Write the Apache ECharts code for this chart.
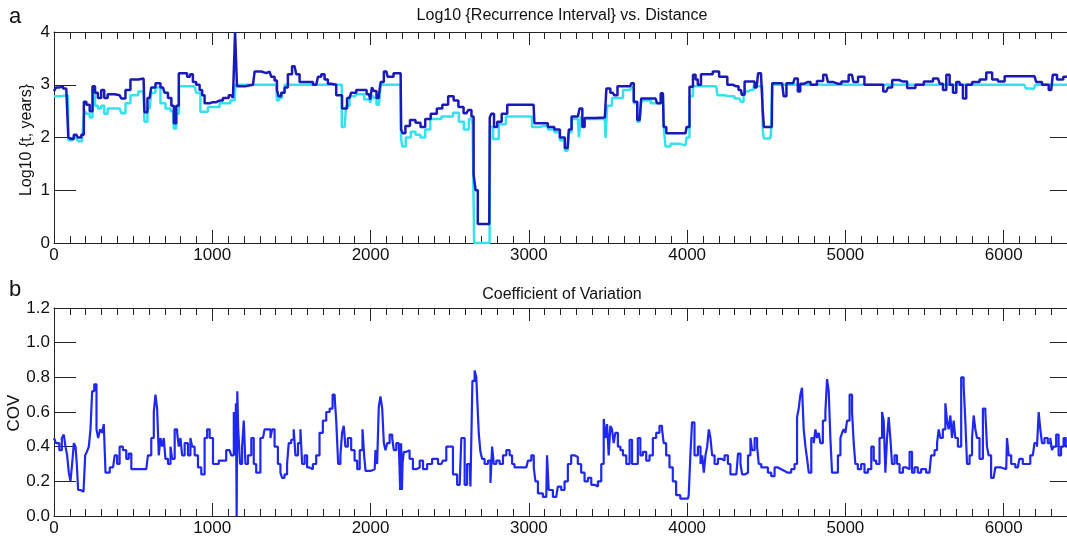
<!DOCTYPE html>
<html><head><meta charset="utf-8">
<script src="https://cdn.jsdelivr.net/npm/echarts@6/dist/echarts.min.js"></script>
<style>html,body{margin:0;padding:0;background:#fff}#c{width:1067px;height:540px}</style>
</head><body><div id="c"></div>
<script>
// ---------- data ----------
const titleTop = 'Log10 {Recurrence Interval} vs. Distance';
const titleBottom = 'Coefficient of Variation';
const yNameTop = 'Log10 {t, years}';
const yNameBottom = 'COV';
const panelLetters = ['a', 'b'];

// Log10 recurrence interval, upper (dark blue) curve: [distance, log10 years]
const riDark = [[0,2.88],[25,2.95],[46,2.97],[67,2.93],[88,2.95],[93,2.00],[109,1.97],[141,2.05],[162,2.00],[183,2.05],[194,2.68],[215,2.62],[236,2.50],[251,2.97],[267,2.85],[288,2.75],[309,2.90],[326,2.75],[352,2.82],[415,2.80],[436,2.74],[467,2.90],[499,3.10],[566,3.12],[577,2.48],[604,2.75],[625,2.95],[657,3.03],[688,2.95],[709,2.85],[731,2.75],[752,2.60],[762,2.27],[783,2.60],[794,3.22],[825,3.22],[857,3.15],[867,3.20],[888,3.05],[909,3.00],[931,2.90],[941,2.80],[962,2.65],[1004,2.67],[1046,2.70],[1088,2.75],[1120,2.80],[1141,2.75],[1147,4.00],[1154,4.00],[1158,2.97],[1257,3.00],[1278,3.25],[1341,3.22],[1362,3.25],[1383,3.15],[1404,3.08],[1413,2.90],[1425,2.78],[1446,2.85],[1467,2.95],[1488,3.20],[1520,3.35],[1541,3.20],[1562,3.05],[1615,3.05],[1657,3.00],[1678,3.15],[1699,3.20],[1720,3.10],[1741,3.02],[1762,3.00],[1804,2.80],[1836,2.55],[1867,2.75],[1888,2.85],[1931,2.90],[1960,2.90],[1990,2.82],[2005,2.72],[2012,2.95],[2030,2.88],[2045,2.75],[2060,2.80],[2068,3.05],[2100,3.25],[2115,3.15],[2140,3.15],[2150,3.22],[2190,3.22],[2196,2.15],[2210,2.08],[2230,2.22],[2268,2.33],[2300,2.28],[2331,2.20],[2360,2.35],[2400,2.45],[2437,2.55],[2470,2.62],[2510,2.78],[2540,2.70],[2570,2.58],[2605,2.46],[2630,2.52],[2645,2.40],[2657,1.30],[2670,1.00],[2685,0.36],[2750,0.36],[2756,2.38],[2770,2.45],[2790,2.20],[2810,2.30],[2847,2.45],[2880,2.62],[3030,2.62],[3040,2.27],[3100,2.27],[3140,2.20],[3182,2.15],[3210,2.00],[3245,1.80],[3260,2.15],[3280,2.40],[3310,2.40],[3331,2.55],[3345,2.20],[3360,2.37],[3480,2.38],[3500,2.93],[3530,2.85],[3550,2.80],[3570,2.97],[3640,2.97],[3656,3.03],[3670,2.68],[3700,2.33],[3720,2.74],[3800,2.74],[3820,2.65],[3847,2.84],[3857,2.20],[3880,2.08],[3990,2.08],[4003,2.20],[4027,2.96],[4047,3.19],[4060,3.10],[4075,3.00],[4100,3.20],[4140,3.20],[4184,3.25],[4220,3.15],[4240,3.15],[4268,3.00],[4310,2.97],[4340,2.90],[4350,2.81],[4376,3.06],[4413,3.06],[4439,2.95],[4458,3.22],[4475,3.22],[4480,2.52],[4490,2.20],[4535,2.20],[4540,3.03],[4600,3.03],[4620,2.78],[4635,3.03],[4670,3.03],[4689,3.12],[4710,2.87],[4720,3.02],[4760,3.05],[4800,3.00],[4840,3.07],[4879,3.19],[4900,3.05],[4950,3.02],[5000,3.06],[5041,3.19],[5060,3.05],[5100,3.15],[5140,3.00],[5220,3.00],[5258,2.87],[5280,2.95],[5311,3.09],[5364,3.06],[5416,2.94],[5469,3.00],[5522,3.06],[5585,3.12],[5606,3.02],[5627,2.90],[5648,3.19],[5669,3.00],[5690,2.85],[5711,3.05],[5732,3.00],[5753,2.74],[5774,3.00],[5827,3.05],[5869,3.10],[5911,3.23],[5943,3.10],[5985,3.06],[6027,3.16],[6195,3.16],[6216,3.05],[6269,3.00],[6300,2.90],[6321,3.19],[6353,3.10],[6400,3.15]];

// Log10 recurrence interval, lower (cyan) curve
const riCyan = [[0,2.78],[88,2.80],[93,1.95],[140,2.00],[165,1.93],[190,1.97],[194,2.50],[215,2.45],[236,2.38],[251,2.95],[267,2.60],[288,2.55],[309,2.60],[326,2.45],[352,2.55],[415,2.55],[436,2.46],[467,2.65],[499,2.80],[566,2.87],[577,2.30],[604,2.55],[625,2.85],[657,2.95],[688,2.65],[720,2.55],[752,2.50],[762,2.17],[783,2.45],[794,2.97],[888,2.97],[909,2.85],[941,2.49],[1004,2.58],[1088,2.65],[1141,2.70],[1150,3.00],[1404,3.00],[1413,2.70],[1430,2.75],[1450,2.85],[1465,3.00],[1800,3.00],[1836,2.20],[1855,2.60],[1880,2.78],[1930,2.82],[1990,2.72],[2005,2.66],[2015,2.80],[2030,2.75],[2045,2.62],[2060,2.60],[2068,3.00],[2190,3.00],[2196,1.97],[2205,1.83],[2240,2.00],[2268,2.11],[2300,2.05],[2331,2.00],[2360,2.15],[2395,2.35],[2500,2.40],[2542,2.47],[2574,2.30],[2605,2.15],[2637,2.35],[2652,2.25],[2657,0.00],[2752,0.00],[2758,2.20],[2790,1.97],[2830,2.25],[2880,2.40],[3000,2.40],[3040,2.20],[3100,2.22],[3140,2.15],[3182,2.10],[3210,1.95],[3245,1.75],[3260,2.10],[3280,2.35],[3310,2.35],[3322,2.00],[3335,2.40],[3345,2.20],[3360,2.35],[3480,2.35],[3490,1.99],[3500,2.60],[3550,2.75],[3640,2.90],[3656,2.95],[3670,2.65],[3700,2.30],[3720,2.70],[3820,2.65],[3847,2.80],[3857,2.20],[3870,1.83],[3920,1.88],[3990,1.85],[4003,2.00],[4027,2.78],[4047,2.97],[4184,2.97],[4200,2.80],[4268,2.78],[4330,2.74],[4350,2.68],[4363,2.87],[4400,2.90],[4440,2.97],[4475,2.97],[4480,2.14],[4490,1.98],[4525,1.98],[4535,2.10],[4540,3.00],[6130,3.00],[6150,2.93],[6190,2.92],[6210,3.00],[6400,3.00]];

// Coefficient of variation: [distance, COV]
const covPts = [[0,0.45],[25,0.42],[42,0.38],[57,0.45],[67,0.47],[78,0.40],[88,0.35],[99,0.25],[109,0.20],[120,0.30],[131,0.42],[141,0.40],[147,0.30],[158,0.15],[179,0.14],[194,0.15],[200,0.35],[215,0.37],[225,0.40],[236,0.50],[246,0.72],[263,0.76],[274,0.50],[284,0.45],[299,0.50],[309,0.48],[320,0.53],[331,0.25],[373,0.28],[394,0.35],[404,0.30],[425,0.40],[446,0.38],[467,0.33],[478,0.36],[499,0.27],[583,0.27],[604,0.35],[625,0.45],[636,0.60],[646,0.70],[657,0.62],[667,0.35],[678,0.45],[688,0.40],[699,0.45],[709,0.33],[731,0.30],[741,0.40],[752,0.33],[773,0.50],[783,0.48],[794,0.40],[804,0.45],[815,0.35],[836,0.42],[857,0.35],[867,0.45],[878,0.40],[899,0.35],[920,0.28],[941,0.24],[962,0.45],[973,0.50],[994,0.45],[1015,0.30],[1067,0.32],[1109,0.38],[1131,0.35],[1141,0.60],[1147,0.35],[1152,0.65],[1156,0.00],[1160,0.72],[1168,0.50],[1183,0.30],[1194,0.40],[1204,0.55],[1215,0.30],[1236,0.35],[1257,0.45],[1267,0.30],[1288,0.25],[1320,0.45],[1341,0.50],[1362,0.50],[1373,0.45],[1383,0.50],[1404,0.40],[1425,0.30],[1436,0.25],[1446,0.22],[1467,0.24],[1478,0.30],[1488,0.42],[1509,0.44],[1520,0.50],[1531,0.35],[1552,0.42],[1562,0.50],[1573,0.30],[1594,0.35],[1604,0.28],[1625,0.27],[1646,0.30],[1667,0.35],[1688,0.48],[1709,0.55],[1731,0.60],[1752,0.62],[1768,0.70],[1779,0.68],[1787,0.55],[1804,0.30],[1815,0.35],[1825,0.48],[1836,0.52],[1846,0.40],[1867,0.45],[1888,0.38],[1910,0.32],[1921,0.27],[1942,0.38],[1956,0.50],[1963,0.35],[1973,0.26],[2026,0.27],[2036,0.38],[2047,0.30],[2057,0.63],[2068,0.69],[2079,0.62],[2089,0.42],[2100,0.38],[2110,0.42],[2131,0.47],[2142,0.45],[2152,0.38],[2173,0.42],[2184,0.43],[2190,0.15],[2196,0.42],[2200,0.15],[2205,0.31],[2215,0.37],[2236,0.38],[2257,0.33],[2278,0.27],[2300,0.28],[2321,0.32],[2342,0.27],[2373,0.30],[2405,0.33],[2447,0.30],[2468,0.32],[2489,0.40],[2510,0.40],[2531,0.24],[2563,0.18],[2584,0.45],[2605,0.18],[2615,0.30],[2626,0.30],[2636,0.17],[2651,0.78],[2664,0.84],[2672,0.80],[2678,0.65],[2689,0.48],[2699,0.37],[2710,0.33],[2731,0.30],[2752,0.32],[2763,0.19],[2773,0.40],[2784,0.30],[2805,0.32],[2826,0.30],[2847,0.35],[2868,0.38],[2889,0.35],[2899,0.30],[2920,0.28],[2984,0.28],[3005,0.32],[3026,0.35],[3036,0.28],[3047,0.20],[3068,0.13],[3110,0.11],[3120,0.35],[3131,0.15],[3173,0.11],[3194,0.17],[3215,0.15],[3236,0.20],[3257,0.30],[3278,0.35],[3299,0.34],[3320,0.30],[3341,0.25],[3363,0.20],[3384,0.22],[3405,0.18],[3426,0.17],[3447,0.20],[3468,0.30],[3478,0.56],[3489,0.45],[3499,0.53],[3510,0.35],[3520,0.52],[3531,0.50],[3541,0.42],[3552,0.48],[3573,0.40],[3584,0.38],[3605,0.35],[3626,0.30],[3647,0.44],[3657,0.30],[3678,0.30],[3699,0.45],[3710,0.35],[3731,0.37],[3752,0.32],[3773,0.35],[3794,0.45],[3815,0.48],[3836,0.52],[3847,0.50],[3857,0.42],[3878,0.35],[3899,0.28],[3920,0.20],[3941,0.12],[3973,0.10],[4005,0.10],[4015,0.12],[4026,0.35],[4036,0.54],[4057,0.35],[4079,0.40],[4090,0.30],[4100,0.35],[4111,0.25],[4121,0.35],[4132,0.40],[4142,0.50],[4153,0.45],[4163,0.35],[4184,0.30],[4205,0.33],[4226,0.32],[4247,0.35],[4268,0.30],[4279,0.24],[4311,0.24],[4332,0.36],[4342,0.30],[4353,0.24],[4374,0.25],[4395,0.35],[4405,0.45],[4416,0.38],[4437,0.45],[4447,0.40],[4458,0.30],[4479,0.28],[4500,0.28],[4521,0.25],[4542,0.23],[4563,0.28],[4584,0.27],[4605,0.26],[4626,0.25],[4647,0.25],[4668,0.27],[4689,0.30],[4700,0.57],[4710,0.62],[4721,0.70],[4731,0.74],[4742,0.50],[4753,0.40],[4763,0.33],[4774,0.25],[4795,0.45],[4805,0.42],[4816,0.50],[4826,0.45],[4837,0.48],[4847,0.42],[4868,0.55],[4879,0.60],[4889,0.79],[4900,0.72],[4910,0.45],[4921,0.25],[4942,0.25],[4963,0.35],[4974,0.45],[4984,0.48],[4995,0.50],[5005,0.48],[5016,0.55],[5037,0.70],[5047,0.60],[5058,0.42],[5068,0.30],[5089,0.27],[5110,0.30],[5131,0.25],[5153,0.27],[5174,0.40],[5184,0.32],[5205,0.30],[5226,0.45],[5237,0.60],[5247,0.55],[5258,0.25],[5268,0.45],[5279,0.57],[5289,0.45],[5300,0.30],[5321,0.35],[5331,0.30],[5353,0.25],[5374,0.28],[5395,0.27],[5416,0.37],[5426,0.25],[5447,0.28],[5468,0.25],[5489,0.27],[5531,0.25],[5552,0.35],[5574,0.38],[5584,0.42],[5595,0.50],[5605,0.45],[5626,0.50],[5637,0.65],[5647,0.55],[5658,0.50],[5668,0.58],[5679,0.45],[5689,0.55],[5700,0.45],[5721,0.40],[5742,0.80],[5752,0.75],[5763,0.55],[5774,0.30],[5795,0.35],[5805,0.45],[5816,0.58],[5826,0.50],[5837,0.45],[5858,0.33],[5879,0.62],[5889,0.60],[5900,0.40],[5910,0.35],[5931,0.22],[5942,0.23],[5952,0.28],[6016,0.27],[6026,0.45],[6037,0.35],[6058,0.30],[6089,0.28],[6110,0.33],[6131,0.30],[6152,0.30],[6184,0.35],[6205,0.42],[6216,0.40],[6226,0.60],[6237,0.50],[6247,0.42],[6268,0.45],[6289,0.42],[6300,0.45],[6310,0.38],[6321,0.40],[6342,0.47],[6352,0.35],[6373,0.40],[6384,0.45],[6400,0.40]];

// axis ranges
const distRange = [0, 6400];
const distMajor = 1000, distMinor = 100;
const logRange = [0, 4], logStep = 1;
const covRange = [0, 1.2], covStep = 0.2;

// ---------- chart ----------
const FONT = '"Liberation Sans", Arial, Helvetica, sans-serif';
const AX = '#222';
const chart = echarts.init(document.getElementById('c'), null, {renderer: 'canvas'});

function xAxesFor(grid) {
  const base = {
    type: 'value', gridIndex: grid, min: distRange[0], max: distRange[1],
    splitLine: {show: false}
  };
  return [
    Object.assign({}, base, {position: 'bottom', interval: distMajor,
      axisLine: {show: true, onZero: false, lineStyle: {color: AX, width: 1}},
      axisTick: {show: true, inside: true, length: 13, lineStyle: {color: AX}},
      axisLabel: {show: true, showMaxLabel: false, margin: 4, color: '#111', fontSize: 17, fontFamily: FONT,
        formatter: v => String(Math.round(v))}}),
    Object.assign({}, base, {position: 'bottom', interval: distMinor,
      axisLine: {show: false, onZero: false},
      axisTick: {show: true, inside: true, length: 7, lineStyle: {color: AX}},
      axisLabel: {show: false}}),
    Object.assign({}, base, {position: 'top', interval: distMajor,
      axisLine: {show: true, onZero: false, lineStyle: {color: AX, width: 1}},
      axisTick: {show: true, inside: true, length: 13, lineStyle: {color: AX}},
      axisLabel: {show: false}}),
    Object.assign({}, base, {position: 'top', interval: distMinor,
      axisLine: {show: false, onZero: false},
      axisTick: {show: true, inside: true, length: 7, lineStyle: {color: AX}},
      axisLabel: {show: false}})
  ];
}
function yAxesFor(grid, range, step, fmt) {
  const base = {type: 'value', gridIndex: grid, min: range[0], max: range[1], interval: step, splitLine: {show: false}};
  return [
    Object.assign({}, base, {position: 'left',
      axisLine: {show: true, onZero: false, lineStyle: {color: AX, width: 1}},
      axisTick: {show: true, inside: true, length: 22, lineStyle: {color: AX}},
      axisLabel: {show: true, margin: 4, color: '#111', fontSize: 17, fontFamily: FONT, formatter: fmt}}),
    Object.assign({}, base, {position: 'right',
      axisLine: {show: true, onZero: false, lineStyle: {color: AX, width: 1}},
      axisTick: {show: true, inside: true, length: 17, lineStyle: {color: AX}},
      axisLabel: {show: false}})
  ];
}

const option = {
  backgroundColor: '#fff',
  animation: false,
  grid: [
    {left: 54, right: 0, top: 32, height: 211},
    {left: 54, right: 0, top: 308, height: 208}
  ],
  xAxis: xAxesFor(0).concat(xAxesFor(1)),
  yAxis: yAxesFor(0, logRange, logStep, v => String(Math.round(v)))
    .concat(yAxesFor(1, covRange, covStep, v => v.toFixed(1))),
  series: [
    {type: 'line', xAxisIndex: 0, yAxisIndex: 0, data: riCyan, showSymbol: false, symbol: 'none', step: 'middle',
     lineStyle: {color: '#33e2ee', width: 2.5}, z: 2},
    {type: 'line', xAxisIndex: 0, yAxisIndex: 0, data: riDark, showSymbol: false, symbol: 'none', step: 'middle',
     lineStyle: {color: '#1a1ab8', width: 2.5}, z: 3},
    {type: 'line', xAxisIndex: 4, yAxisIndex: 2, data: covPts, showSymbol: false, symbol: 'none', step: 'middle',
     lineStyle: {color: '#1f28ee', width: 2.2}, z: 3}
  ],
  graphic: [
    {type: 'text', x: 15, y: 17, style: {text: panelLetters[0], font: '22px ' + FONT, fill: '#111', textAlign: 'center', textVerticalAlign: 'middle'}},
    {type: 'text', x: 15, y: 290, style: {text: panelLetters[1], font: '22px ' + FONT, fill: '#111', textAlign: 'center', textVerticalAlign: 'middle'}},
    {type: 'text', x: 562, y: 16, style: {text: titleTop, font: '16px ' + FONT, fill: '#111', textAlign: 'center', textVerticalAlign: 'middle'}},
    {type: 'text', x: 562, y: 295, style: {text: titleBottom, font: '16px ' + FONT, fill: '#111', textAlign: 'center', textVerticalAlign: 'middle'}},
    {type: 'text', x: 27, y: 140, rotation: Math.PI / 2, style: {text: yNameTop, font: '16px ' + FONT, fill: '#111', textAlign: 'center', textVerticalAlign: 'middle'}},
    {type: 'text', x: 14, y: 413, rotation: Math.PI / 2, style: {text: yNameBottom, font: '17px ' + FONT, fill: '#111', textAlign: 'center', textVerticalAlign: 'middle'}}
  ]
};
chart.setOption(option);
</script>
</body></html>
